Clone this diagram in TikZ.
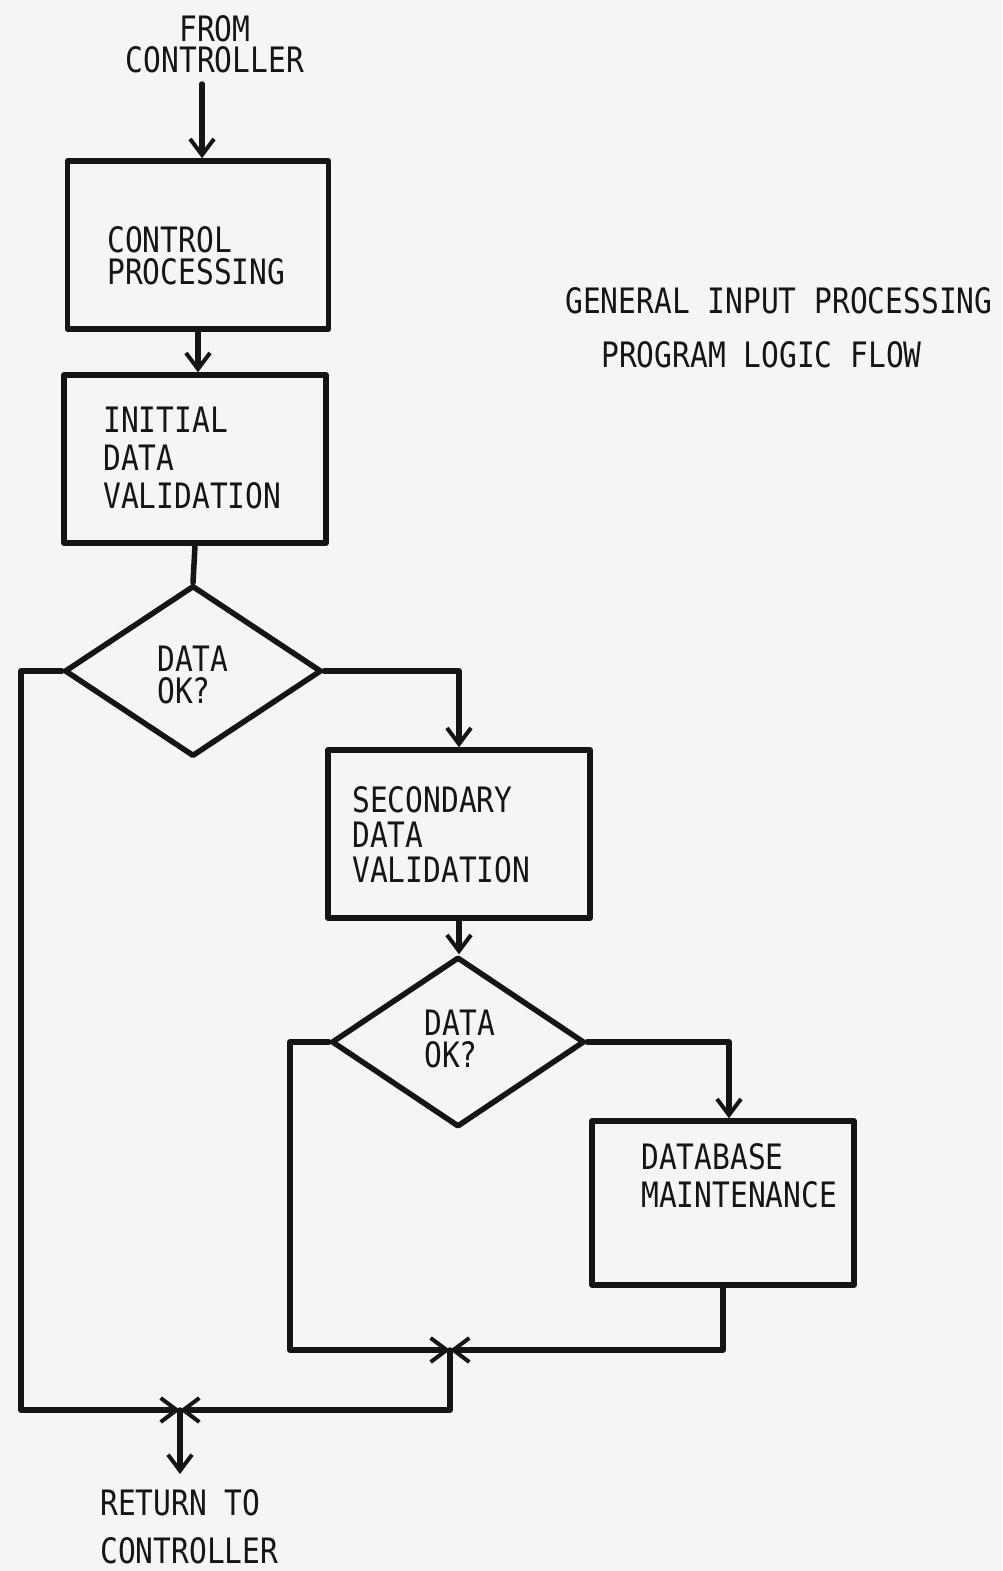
\documentclass[tikz,border=0pt]{standalone}
\usepackage{fontspec}
\setmainfont[FakeStretch=0.845]{DejaVu Sans Mono}
\usetikzlibrary{arrows.meta,shapes.geometric}
\definecolor{paper}{HTML}{F5F5F3}
\definecolor{ink}{HTML}{151515}
\tikzset{
  flow/.style={draw=ink, line width=5.5pt, line join=round, line cap=round},
  arr/.style={flow, -{Straight Barb[length=16pt,width=24pt,line width=4pt]}},
  procbox/.style={flow, rectangle, inner sep=0pt},
  decision/.style={flow, diamond, inner sep=0pt},
  % multi-line labels are placed by the baseline of their last line
  lbl/.style={text=ink, inner sep=0pt, align=left, anchor=base west,
              font=\fontsize{35}{#1}\selectfont},
  lbl/.default=30
}
\begin{document}
\begin{tikzpicture}[x=1pt,y=-1pt]
  % sheet
  \fill[paper] (0,0) rectangle (1002,1571);
  \useasboundingbox (0,0) rectangle (1002,1571);

  % title
  \node[lbl] (title1) at (565,313) {GENERAL INPUT PROCESSING};
  \node[lbl] (title2) at (601,367) {PROGRAM LOGIC FLOW};

  % entry label
  \node[lbl=32, align=center, anchor=base] (fromctl) at (215,73) {FROM\\CONTROLLER};
  \coordinate (entry) at (202,84);

  % process boxes
  \node[procbox, minimum width=261pt, minimum height=168pt] (b1) at (198,245) {};
  \node[procbox, minimum width=262pt, minimum height=168pt] (b2) at (195,459) {};
  \node[procbox, minimum width=262pt, minimum height=168pt] (b3) at (459,834) {};
  \node[procbox, minimum width=262pt, minimum height=164pt] (b4) at (723,1203) {};

  % decisions
  \node[decision, minimum width=257pt, minimum height=171pt] (d1) at (193,671) {};
  \node[decision, minimum width=253pt, minimum height=170pt] (d2) at (458,1042) {};

  % box and decision texts
  \node[lbl=32] (t1) at (107,284) {CONTROL\\PROCESSING};
  \node[lbl=38] (t2) at (103,508) {INITIAL\\DATA\\VALIDATION};
  \node[lbl=32] (t3) at (157,703) {DATA\\OK?};
  \node[lbl=35] (t4) at (352,882) {SECONDARY\\DATA\\VALIDATION};
  \node[lbl=32] (t5) at (424,1067) {DATA\\OK?};
  \node[lbl=38] (t6) at (641,1207) {DATABASE\\MAINTENANCE};

  % exit label
  \node[lbl=48] (retctl) at (100,1563) {RETURN TO\\CONTROLLER};

  % junction points
  \coordinate (j1) at (180,1410);
  \coordinate (j2) at (450,1350);
  \coordinate (leftrail) at (21,1410);
  \coordinate (midrail) at (290,1350);
  \coordinate (exit) at (180,1474);

  % main flow
  \draw[arr] (entry) -- (entry |- b1.north);
  \draw[arr] (b1.south) -- (b1.south |- b2.north);
  \draw[flow] (b2.south) -- (d1.north);
  \draw[arr] (d1.east) -| (b3.north);
  \draw[arr] (b3.south) -- (b3.south |- d2.north);
  \draw[arr] (d2.east) -| ([xshift=6pt]b4.north);

  % rejection paths
  \draw[arr] (d1.west) -| (leftrail) -- (j1);
  \draw[arr] (d2.west) -| (midrail) -- (j2);

  % merge after maintenance
  \draw[arr] (b4.south) |- (j2);
  \draw[arr] (j2) -- (j2 |- j1) -- (j1);

  % back to controller
  \draw[arr] (j1) -- (exit);
\end{tikzpicture}
\end{document}
